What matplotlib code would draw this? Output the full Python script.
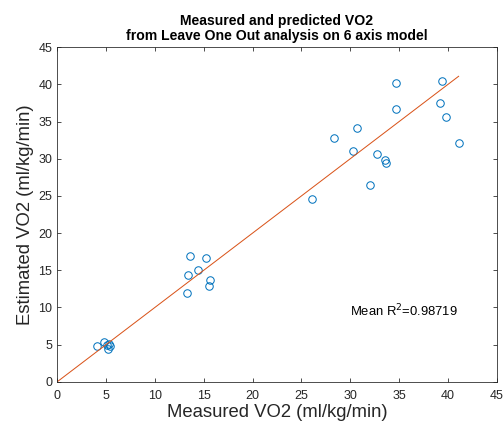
import matplotlib
matplotlib.use("Agg")
import matplotlib.pyplot as plt
import numpy as np

plt.rcParams['font.family'] = ['Liberation Sans', 'DejaVu Sans']

# Measured vs. leave-one-out predicted VO2 (ml/kg/min)
measured = [4.1, 4.8, 5.1, 5.4, 5.2, 5.3,
            13.6, 15.2, 14.4, 13.4, 15.6, 15.5, 13.3,
            34.7, 39.4, 34.7, 39.2, 39.8, 30.7, 28.3, 41.1,
            30.3, 32.7, 33.6, 33.7, 32.0, 26.1]
predicted = [4.8, 5.3, 4.9, 4.8, 4.4, 5.1,
             16.9, 16.6, 15.0, 14.3, 13.7, 12.9, 11.9,
             40.2, 40.5, 36.7, 37.5, 35.6, 34.1, 32.8, 32.1,
             31.1, 30.7, 29.8, 29.4, 26.5, 24.6]
mean_r2 = 0.98719

x_ticks = list(range(0, 50, 5))
y_ticks = list(range(0, 50, 5))

blue = (0.0, 0.447, 0.741)
orange = (0.85, 0.325, 0.098)
grey = (0.15, 0.15, 0.15)

fig = plt.figure(figsize=(7, 6), dpi=72)
ax = fig.add_axes([0.1137, 0.1164, 0.8718, 0.7741])

ax.plot(measured, predicted, linestyle='none', marker='o', markersize=7.5,
        markerfacecolor='none', markeredgecolor=blue, markeredgewidth=1.0)

# identity reference line from the origin to the largest measurement
xmax = max(measured)
ax.plot([0, xmax], [0, xmax], color=orange, linewidth=1.0)

ax.set_xlim(0, 45)
ax.set_ylim(0, 45)
ax.set_xticks(x_ticks)
ax.set_yticks(y_ticks)

for side in ['top', 'bottom', 'left', 'right']:
    ax.spines[side].set_color(grey)
    ax.spines[side].set_linewidth(0.8)
ax.tick_params(direction='in', length=4, width=0.8, colors=grey,
               labelsize=12.5, top=True, right=True)
ax.tick_params(axis='x', pad=8)
ax.tick_params(axis='y', pad=5)
for lbl in ax.get_xticklabels() + ax.get_yticklabels():
    lbl.set_color(grey)

ax.set_xlabel('Measured VO2 (ml/kg/min)', fontsize=18.5, color=grey, labelpad=2)
ax.set_ylabel('Estimated VO2 (ml/kg/min)', fontsize=18.5, color=grey, labelpad=4)
ax.set_title('Measured and predicted VO2\nfrom Leave One Out analysis on 6 axis model',
             fontsize=14, fontweight='bold', color='black', pad=7,
             linespacing=1.15)

ax.text(30.0, 9.5, 'Mean R$^2$=%.5f' % mean_r2, fontsize=13, color='black',
        ha='left', va='center')

fig.savefig('out.png', dpi=72)
